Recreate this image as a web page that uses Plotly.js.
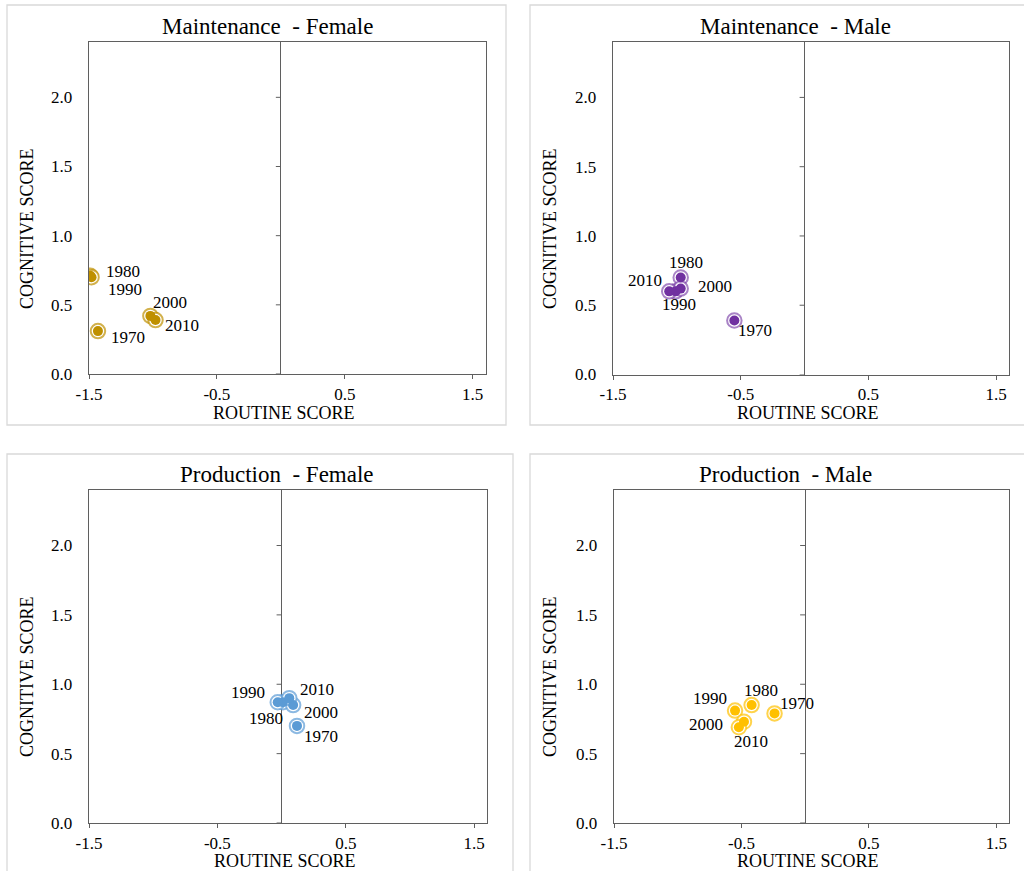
<!DOCTYPE html>
<html>
<head>
<meta charset="utf-8">
<script src="https://cdn.plot.ly/plotly-3.0.1.min.js"></script>
<style>
  html, body { margin: 0; padding: 0; background: #ffffff; }
  #chart { width: 1024px; height: 871px; }
</style>
</head>
<body>
<div id="chart"></div>
<script>
// Decade labels shared by every panel
const years = ["1970", "1980", "1990", "2000", "2010"];

// Maintenance occupations
const maintFemaleRoutine   = [-1.43, -1.49, -1.48, -1.02, -0.98];
const maintFemaleCognitive = [0.31, 0.71, 0.70, 0.42, 0.39];
const maintMaleRoutine     = [-0.55, -0.97, -1.01, -0.97, -1.06];
const maintMaleCognitive   = [0.39, 0.70, 0.60, 0.62, 0.60];

// Production occupations
const prodFemaleRoutine    = [0.12, 0.01, -0.03, 0.09, 0.06];
const prodFemaleCognitive  = [0.70, 0.87, 0.87, 0.85, 0.90];
const prodMaleRoutine      = [-0.24, -0.42, -0.55, -0.48, -0.52];
const prodMaleCognitive    = [0.79, 0.85, 0.81, 0.73, 0.69];

// Axis ticks
const xTickVals = [-1.5, -0.5, 0.5, 1.5];
const xTickText = ["-1.5", "-0.5", "0.5", "1.5"];
const yTickVals = [0, 0.5, 1.0, 1.5, 2.0];
const yTickText = ["0.0", "0.5", "1.0", "1.5", "2.0"];

const panelTitles = ["Maintenance&nbsp; - Female", "Maintenance&nbsp; - Male",
                     "Production&nbsp; - Female", "Production&nbsp; - Male"];

// ---- presentation ----
const W = 1024, H = 871;
const FONT = "'Liberation Serif', 'Times New Roman', serif";
const AXIS = "#5f5f5f";
const X_RANGE = [-1.5, 1.6];
const Y_RANGE = [0, 2.4];

// Pixel geometry for each panel: plot area, outer box, title and axis-title anchors
const panels = [
  { routine: maintFemaleRoutine, cognitive: maintFemaleCognitive,
    dark: "#BF9000", ring: "rgba(191,144,0,0.7)",
    plot: [89, 42, 485.5, 374], box: [7, 5, 506, 425],
    title: [267, 27], xt: [284, 413], yt: [27, 229],
    offsets: [[30, 6], [33, -4], [33, 12], [20, -13], [26, 5]] },
  { routine: maintMaleRoutine, cognitive: maintMaleCognitive,
    dark: "#7030A0", ring: "rgba(112,48,160,0.6)",
    plot: [613, 42, 1009, 374.5], box: [530, 5, 1040, 425],
    title: [795, 27], xt: [808, 413], yt: [550, 229],
    offsets: [[21, 10], [5, -15], [3, 13.5], [34, -2], [-24, -11]] },
  { routine: prodFemaleRoutine, cognitive: prodFemaleCognitive,
    dark: "#5B9BD5", ring: "rgba(91,155,213,0.7)",
    plot: [89, 490, 487, 823], box: [7, 454, 513, 890],
    title: [277, 475], xt: [285, 861], yt: [27, 677],
    offsets: [[24, 11], [-17, 16], [-30, -10], [28, 7], [28, -9]] },
  { routine: prodMaleRoutine, cognitive: prodMaleCognitive,
    dark: "#FFC000", ring: "rgba(255,192,0,0.7)",
    plot: [614, 490, 1009, 823], box: [530, 454, 1040, 890],
    title: [785, 475], xt: [808, 861], yt: [550, 677],
    offsets: [[22, -10], [9, -15], [-25, -12], [-38, 3], [12, 14]] }
];

const px = x => x / W;
const py = y => 1 - y / H;

const data = [];
const layout = {
  width: W, height: H,
  margin: { l: 0, r: 0, t: 0, b: 0 },
  paper_bgcolor: "#ffffff",
  plot_bgcolor: "#ffffff",
  showlegend: false,
  font: { family: FONT, color: "#000000", size: 17 },
  shapes: [],
  annotations: []
};

panels.forEach((p, i) => {
  const n = i === 0 ? "" : String(i + 1);
  const xa = "x" + n, ya = "y" + n;
  const [l, t, r, b] = p.plot;

  layout["xaxis" + n] = {
    domain: [px(l), px(r)], anchor: ya, range: X_RANGE,
    tickmode: "array", tickvals: xTickVals, ticktext: xTickText,
    ticks: "outside", ticklen: 4, tickcolor: AXIS, tickwidth: 1,
    showline: true, mirror: true, linecolor: AXIS, linewidth: 1.3,
    zeroline: true, zerolinecolor: AXIS, zerolinewidth: 1.2,
    showgrid: false, fixedrange: true,
    tickfont: { family: FONT, size: 17, color: "#000000" }
  };
  layout["yaxis" + n] = {
    domain: [py(b), py(t)], anchor: xa, range: Y_RANGE,
    tickmode: "array", tickvals: yTickVals, ticktext: yTickText,
    ticks: "outside", ticklen: 12, tickcolor: "rgba(0,0,0,0)",
    showline: true, mirror: true, linecolor: AXIS, linewidth: 1.3,
    zeroline: false, showgrid: false, fixedrange: true,
    tickfont: { family: FONT, size: 17, color: "#000000" }
  };

  // small tick marks on the vertical axis crossing at routine = 0
  yTickVals.forEach(v => {
    layout.shapes.push({
      type: "line", xref: xa, yref: ya, xsizemode: "pixel", xanchor: 0,
      x0: -5, x1: 0, y0: v, y1: v, line: { color: AXIS, width: 1 }
    });
  });

  // outer chart frame
  const [bl, bt, br, bb] = p.box;
  layout.shapes.push({
    type: "rect", xref: "paper", yref: "paper",
    x0: px(bl), x1: px(br), y0: py(bb), y1: py(bt),
    line: { color: "#d9d9d9", width: 1.3 }, fillcolor: "rgba(0,0,0,0)", layer: "below"
  });

  // panel title and axis titles
  layout.annotations.push({
    xref: "paper", yref: "paper", x: px(p.title[0]), y: py(p.title[1]),
    xanchor: "center", yanchor: "middle", showarrow: false,
    text: panelTitles[i], font: { family: FONT, size: 23, color: "#000000" }
  });
  layout.annotations.push({
    xref: "paper", yref: "paper", x: px(p.xt[0]), y: py(p.xt[1]),
    xanchor: "center", yanchor: "middle", showarrow: false,
    text: "ROUTINE SCORE", font: { family: FONT, size: 18, color: "#000000" }
  });
  layout.annotations.push({
    xref: "paper", yref: "paper", x: px(p.yt[0]), y: py(p.yt[1]),
    xanchor: "center", yanchor: "middle", showarrow: false, textangle: -90,
    text: "COGNITIVE SCORE", font: { family: FONT, size: 18, color: "#000000" }
  });

  // outer ring of each marker
  data.push({
    type: "scatter", mode: "markers", xaxis: xa, yaxis: ya,
    x: p.routine, y: p.cognitive, hoverinfo: "skip",
    marker: { size: 14.5, color: "#ffffff", line: { color: p.ring, width: 2 } }
  });
  // filled core
  data.push({
    type: "scatter", mode: "markers", xaxis: xa, yaxis: ya,
    x: p.routine, y: p.cognitive, text: years,
    marker: { size: 10, color: p.dark, line: { width: 0 } }
  });

  // decade labels beside each point
  years.forEach((yr, k) => {
    layout.annotations.push({
      xref: xa, yref: ya, x: p.routine[k], y: p.cognitive[k],
      xshift: p.offsets[k][0], yshift: -p.offsets[k][1],
      xanchor: "center", yanchor: "middle", showarrow: false,
      text: yr, font: { family: FONT, size: 17, color: "#000000" }
    });
  });
});

Plotly.newPlot("chart", data, layout, { staticPlot: true, displayModeBar: false });
</script>
</body>
</html>
